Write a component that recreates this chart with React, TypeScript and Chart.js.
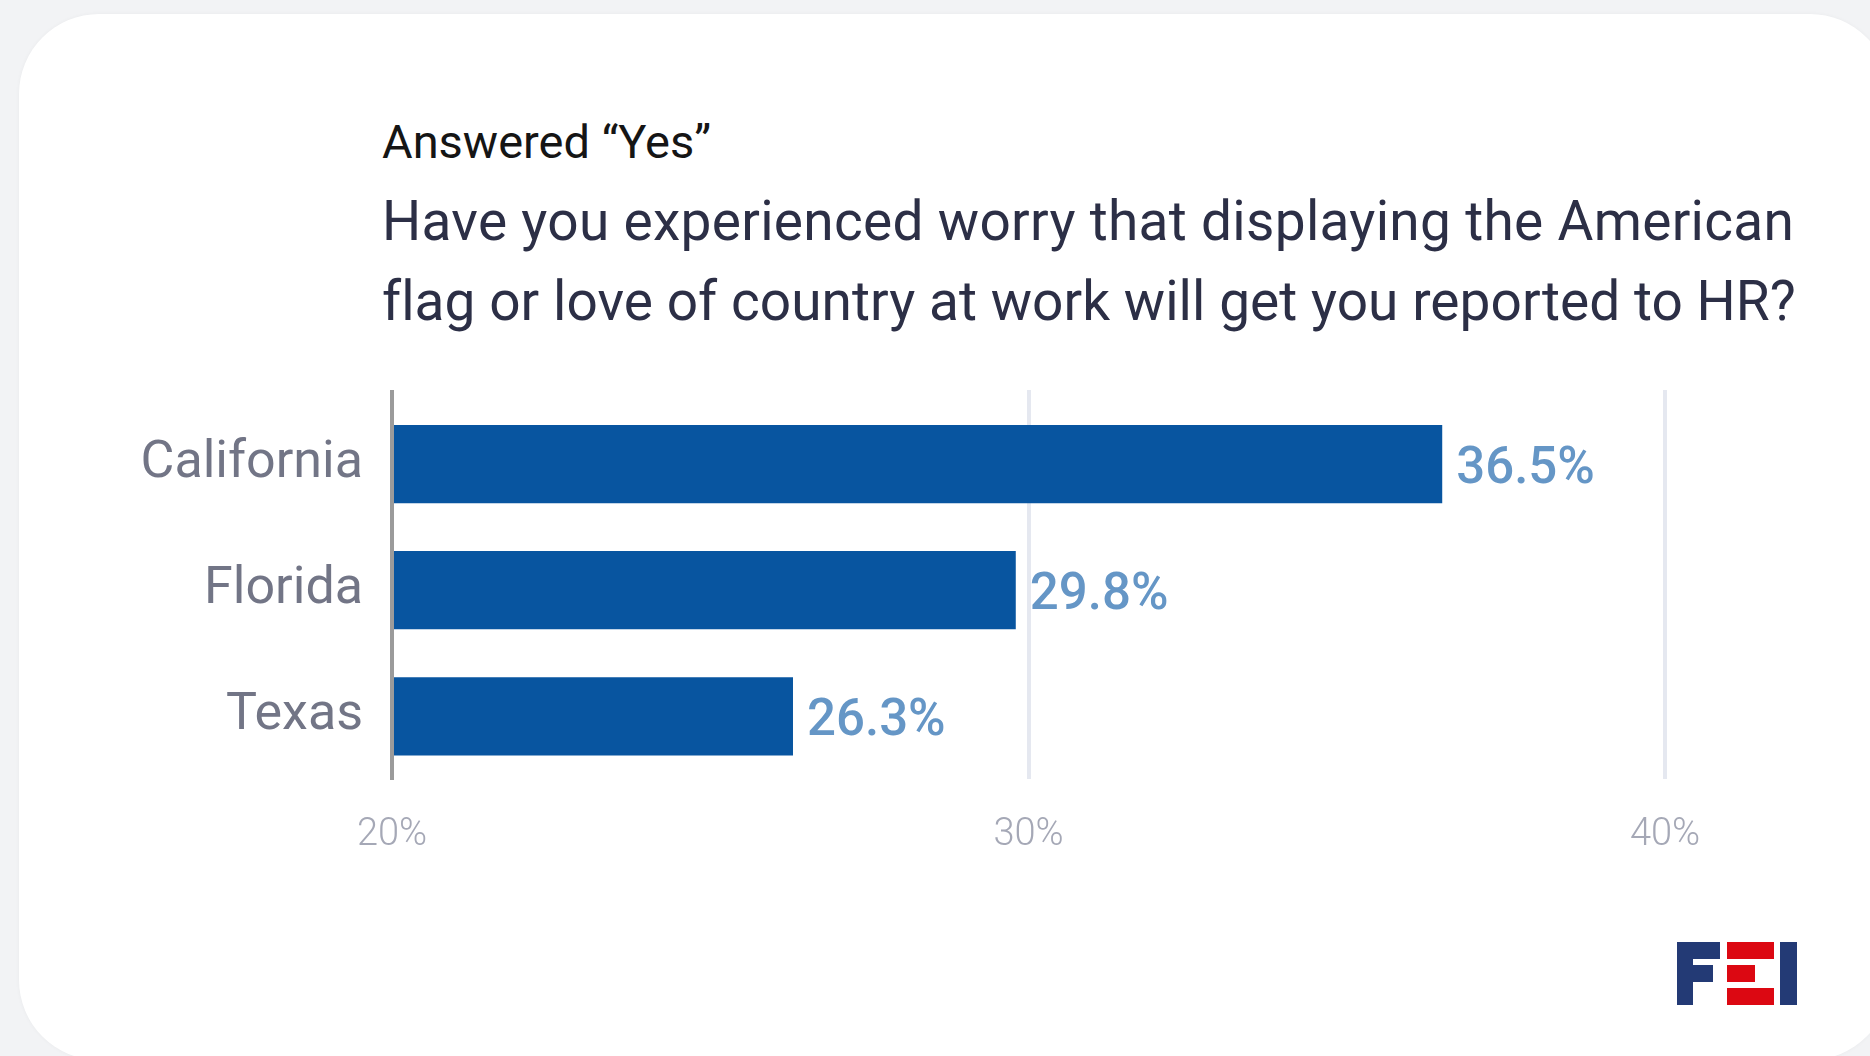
import React, { useEffect, useRef } from 'react';
import { Chart, registerables } from 'chart.js';

Chart.register(...registerables);

const kicker = 'Answered “Yes”';
const questionLines = [
  'Have you experienced worry that displaying the American',
  'flag or love of country at work will get you reported to HR?',
];
const categories = ['California', 'Florida', 'Texas'];
const values = [36.5, 29.8, 26.3];
const xTicks = [20, 30, 40];

const AXIS_GRAY = '#9b9b9b';
const GRID = '#e5e8f0';
const QUESTION_TRACKING = ['0.3px', '0.05px'];

export default function App() {
  const ref = useRef<HTMLCanvasElement>(null);

  useEffect(() => {
    if (!ref.current) return;
    const valueLabels = {
      id: 'valueLabels',
      afterDatasetsDraw(chart: any) {
        const ctx = chart.ctx;
        const meta = chart.getDatasetMeta(0);
        ctx.save();
        ctx.font = '500 51px Roboto';
        ctx.fillStyle = '#6596c6';
        ctx.textAlign = 'left';
        ctx.textBaseline = 'alphabetic';
        meta.data.forEach((bar: any, i: number) => {
          ctx.fillText(values[i].toFixed(1) + '%', bar.x + 14, bar.y + 19);
        });
        ctx.restore();
      },
    };
    const setTicks = (s: any) => {
      s.ticks = xTicks.map((v) => ({ value: v }));
    };
    const chart = new Chart(ref.current, {
      type: 'bar',
      data: {
        labels: categories,
        datasets: [
          {
            data: values,
            backgroundColor: '#0855a0',
            borderWidth: 0,
            categoryPercentage: 1,
            barPercentage: 0.62,
            base: 20,
          } as any,
        ],
      },
      options: {
        indexAxis: 'y',
        animation: false,
        responsive: false,
        maintainAspectRatio: false,
        layout: { padding: { left: 142, right: 205, top: 30, bottom: 0 } },
        plugins: {
          legend: { display: false },
          tooltip: { enabled: false },
        },
        scales: {
          x: {
            type: 'linear',
            position: 'bottom',
            min: 20,
            max: 40,
            afterBuildTicks: setTicks,
            ticks: {
              callback: (v: any) => v + '%',
              color: '#a5a8b6',
              font: { size: 38, weight: '300', family: 'Roboto' },
              padding: 33,
            },
            grid: {
              drawTicks: false,
              lineWidth: 4,
              color: (c: any) => (c.tick && c.tick.value === 20 ? 'rgba(0,0,0,0)' : GRID),
            },
            border: { display: false },
          },
          xTop: {
            type: 'linear',
            position: 'top',
            min: 20,
            max: 40,
            afterBuildTicks: setTicks,
            ticks: { display: false },
            grid: {
              drawOnChartArea: false,
              drawTicks: true,
              tickLength: 11,
              lineWidth: 4,
              color: (c: any) => (c.tick && c.tick.value === 20 ? AXIS_GRAY : GRID),
            },
            border: { display: false },
          },
          y: {
            position: 'left',
            z: 1,
            afterFit: (s: any) => {
              s.width = 250;
              s.paddingTop = 0;
              s.paddingBottom = 0;
            },
            ticks: {
              color: '#727586',
              font: { size: 52, family: 'Roboto', weight: '400' },
              padding: 29,
            },
            grid: { display: true, drawTicks: false, color: 'rgba(0,0,0,0)' },
            border: { display: true, color: AXIS_GRAY, width: 4 },
          },
        } as any,
      },
      plugins: [valueLabels],
    });
    return () => chart.destroy();
  }, []);

  const navy = '#233a75';
  const red = '#dc0812';
  const block = (l: number, t: number, w: number, h: number, c: string) => (
    <div style={{ position: 'absolute', left: l, top: t, width: w, height: h, background: c }} />
  );

  return (
    <div
      style={{
        position: 'absolute',
        left: 0,
        top: 0,
        width: 1870,
        height: 1056,
        overflow: 'hidden',
        background: '#f2f3f5',
        fontFamily: 'Roboto, sans-serif',
      }}
    >
      <div
        style={{
          position: 'absolute',
          left: 19,
          top: 14,
          width: 1871,
          height: 1046,
          background: '#ffffff',
          borderRadius: 80,
          boxShadow: '0 0 4px rgba(0,0,0,0.04)',
        }}
      />
      <div
        style={{
          position: 'absolute',
          left: 382,
          top: 118,
          fontSize: 47,
          lineHeight: '47px',
          color: '#151515',
          whiteSpace: 'nowrap',
        }}
      >
        {kicker}
      </div>
      {questionLines.map((line, i) => (
        <div
          key={i}
          style={{
            position: 'absolute',
            left: 382,
            top: 181 + i * 80,
            fontSize: 55,
            letterSpacing: QUESTION_TRACKING[i],
            lineHeight: '80px',
            color: '#2c2f46',
            whiteSpace: 'nowrap',
          }}
        >
          {line}
        </div>
      ))}
      <canvas
        ref={ref}
        width={1870}
        height={531}
        style={{ position: 'absolute', left: 0, top: 360, width: 1870, height: 531 }}
      />
      {block(1677, 942, 16, 63, navy)}
      {block(1677, 942, 43, 17, navy)}
      {block(1693, 965, 20, 17, navy)}
      {block(1727, 942, 47, 17, red)}
      {block(1727, 965, 28, 17, red)}
      {block(1727, 988, 47, 17, red)}
      {block(1780, 942, 17, 63, navy)}
    </div>
  );
}
